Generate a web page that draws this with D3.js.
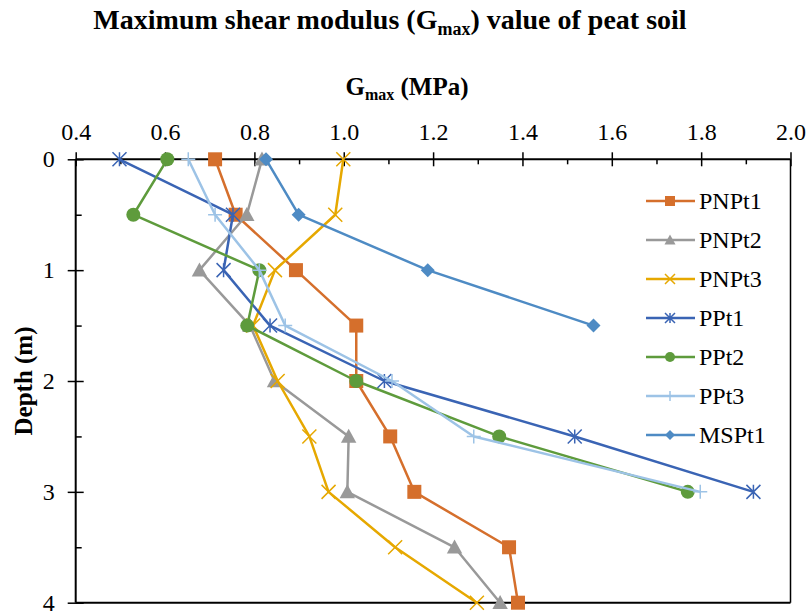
<!DOCTYPE html>
<html>
<head>
<meta charset="utf-8">
<script src="https://cdn.jsdelivr.net/npm/d3@7"></script>
<style>
  html, body { margin: 0; padding: 0; background: #fff; }
  svg { display: block; }
  text { font-family: "Liberation Serif", "Times New Roman", serif; fill: #000; }
</style>
</head>
<body>
<svg id="chart" width="810" height="611"></svg>
<script>
// ---- data ----
const depths = [0, 0.5, 1, 1.5, 2, 2.5, 3, 3.5, 4];
const seriesNames = ["PNPt1", "PNPt2", "PNPt3", "PPt1", "PPt2", "PPt3", "MSPt1"];
const PNPt1 = [0.712, 0.758, 0.893, 1.028, 1.028, 1.104, 1.158, 1.370, 1.390];
const PNPt2 = [0.817, 0.783, 0.677, 0.790, 0.845, 1.011, 1.008, 1.248, 1.350];
const PNPt3 = [0.999, 0.981, 0.846, 0.797, 0.852, 0.923, 0.966, 1.115, 1.298];
const PPt1  = [0.498, 0.752, 0.731, 0.835, 1.091, 1.517, 1.917];
const PPt2  = [0.605, 0.529, 0.811, 0.784, 1.028, 1.348, 1.770];
const PPt3  = [0.652, 0.712, 0.811, 0.869, 1.108, 1.291, 1.798];
const MSPt1 = [0.826, 0.899, 1.188, 1.559];
const xTicks = [0.4, 0.6, 0.8, 1.0, 1.2, 1.4, 1.6, 1.8, 2.0];
const yTicks = [0, 1, 2, 3, 4];

const seriesValues = [PNPt1, PNPt2, PNPt3, PPt1, PPt2, PPt3, MSPt1];
const colors = ["#D56F2C", "#999999", "#E6A800", "#3A64B4", "#5E9B3C", "#9DC3E6", "#4E8BC4"];
const shapes = ["square", "triangle", "x", "asterisk", "circle", "plus", "diamond"];

// ---- layout ----
const svg = d3.select("#chart");
const L = 75.7, R = 790.5, T = 159.3, B = 602.7;
const x = d3.scaleLinear().domain([0.4, 2.0]).range([L, R]);
const y = d3.scaleLinear().domain([0, 4]).range([T, B]);

// title
const title = svg.append("text").attr("x", 390).attr("y", 29).attr("text-anchor", "middle")
  .attr("font-size", 28).attr("font-weight", "bold");
title.append("tspan").text("Maximum shear modulus (G");
title.append("tspan").attr("font-size", 18).attr("dy", 6).text("max");
title.append("tspan").attr("dy", -6).text(") value of peat soil");

// x axis title
const xt = svg.append("text").attr("x", 407).attr("y", 95).attr("text-anchor", "middle")
  .attr("font-size", 25).attr("font-weight", "bold");
xt.append("tspan").text("G");
xt.append("tspan").attr("font-size", 16).attr("dy", 5).text("max");
xt.append("tspan").attr("dy", -5).text(" (MPa)");

// y axis title
svg.append("text").attr("transform", `translate(32,${(T + B) / 2}) rotate(-90)`)
  .attr("text-anchor", "middle").attr("font-size", 25).attr("font-weight", "bold")
  .text("Depth (m)");

// minor ticks x (inside, downward)
const xMinor = d3.range(0.5, 2.0, 0.2);
svg.append("g").attr("transform", `translate(0,${T})`)
  .call(d3.axisTop(x).tickValues(xMinor).tickSizeInner(-5).tickSizeOuter(0).tickFormat(""))
  .call(g => g.select(".domain").remove())
  .call(g => g.selectAll("line").attr("stroke", "#000").attr("stroke-width", 1.5));
// major ticks x (crossing)
const xAxis = svg.append("g").attr("transform", `translate(0,${T})`)
  .call(d3.axisTop(x).tickValues(xTicks).tickSizeOuter(0).tickSizeInner(0).tickPadding(19)
    .tickFormat(d3.format(".1f")));
xAxis.select(".domain").remove();
xAxis.selectAll("text").attr("font-size", 24).attr("font-family", "Liberation Serif");
xAxis.selectAll(".tick").append("line").attr("y1", -7).attr("y2", 7)
  .attr("stroke", "#000").attr("stroke-width", 1.5);

// minor ticks y (inside, right)
const yMinor = [0.5, 1.5, 2.5, 3.5];
svg.append("g").attr("transform", `translate(${L},0)`)
  .call(d3.axisLeft(y).tickValues(yMinor).tickSizeInner(-6).tickSizeOuter(0).tickFormat(""))
  .call(g => g.select(".domain").remove())
  .call(g => g.selectAll("line").attr("stroke", "#000").attr("stroke-width", 1.5));
const yAxis = svg.append("g").attr("transform", `translate(${L},0)`)
  .call(d3.axisLeft(y).tickValues(yTicks).tickSizeOuter(0).tickSizeInner(0).tickPadding(21)
    .tickFormat(d3.format("d")));
yAxis.select(".domain").remove();
yAxis.selectAll("text").attr("font-size", 24).attr("font-family", "Liberation Serif");
yAxis.selectAll(".tick").append("line").attr("x1", -8).attr("x2", 8)
  .attr("stroke", "#000").attr("stroke-width", 1.5);

// frame
svg.append("line").attr("x1", L).attr("x2", R).attr("y1", T).attr("y2", T).attr("stroke", "#000").attr("stroke-width", 2);
svg.append("line").attr("x1", L).attr("x2", L).attr("y1", T).attr("y2", B).attr("stroke", "#000").attr("stroke-width", 2);
svg.append("line").attr("x1", L).attr("x2", R).attr("y1", B).attr("y2", B).attr("stroke", "#000").attr("stroke-width", 2);
svg.append("line").attr("x1", R).attr("x2", R).attr("y1", T).attr("y2", B).attr("stroke", "#000").attr("stroke-width", 1.5);

// marker drawer
function drawMarker(g, shape, color, s) {
  const h = s / 2;
  if (shape === "square") {
    g.append("rect").attr("x", -h).attr("y", -h).attr("width", s).attr("height", s).attr("fill", color);
  } else if (shape === "triangle") {
    g.append("path").attr("d", `M0,${-h * 1.1}L${h * 1.1},${h * 0.9}L${-h * 1.1},${h * 0.9}Z`).attr("fill", color);
  } else if (shape === "circle") {
    g.append("circle").attr("r", h).attr("fill", color);
  } else if (shape === "diamond") {
    g.append("path").attr("d", `M0,${-h}L${h},0L0,${h}L${-h},0Z`).attr("fill", color);
  } else if (shape === "x") {
    g.append("path").attr("d", `M${-h},${-h}L${h},${h}M${-h},${h}L${h},${-h}`)
      .attr("stroke", color).attr("stroke-width", 1.5).attr("fill", "none");
  } else if (shape === "asterisk") {
    g.append("path").attr("d", `M${-h},${-h}L${h},${h}M${-h},${h}L${h},${-h}M0,${-h}L0,${h}`)
      .attr("stroke", color).attr("stroke-width", 1.5).attr("fill", "none");
  } else if (shape === "plus") {
    g.append("path").attr("d", `M${-h},0L${h},0M0,${-h}L0,${h}`)
      .attr("stroke", color).attr("stroke-width", 1.5).attr("fill", "none");
  }
}

// series
const line = d3.line().x(d => x(d.v)).y(d => y(d.d));
seriesValues.forEach((vals, i) => {
  const pts = vals.map((v, j) => ({ v: v, d: depths[j] }));
  const g = svg.append("g");
  g.append("path").datum(pts).attr("d", line).attr("fill", "none")
    .attr("stroke", colors[i]).attr("stroke-width", 2.5).attr("stroke-linejoin", "round");
  pts.forEach(p => {
    const m = g.append("g").attr("transform", `translate(${x(p.v)},${y(p.d)})`);
    drawMarker(m, shapes[i], colors[i], 14);
  });
});

// legend
const lg = svg.append("g");
seriesNames.forEach((name, i) => {
  const yy = 201 + i * 39;
  const row = lg.append("g").attr("transform", `translate(0,${yy})`);
  row.append("line").attr("x1", 646).attr("x2", 695).attr("y1", 0).attr("y2", 0)
    .attr("stroke", colors[i]).attr("stroke-width", 2.5);
  const m = row.append("g").attr("transform", "translate(670,0)");
  drawMarker(m, shapes[i], colors[i], 10);
  row.append("text").attr("x", 699).attr("y", 0).attr("dy", "0.35em")
    .attr("font-size", 24).text(name);
});
</script>
</body>
</html>
